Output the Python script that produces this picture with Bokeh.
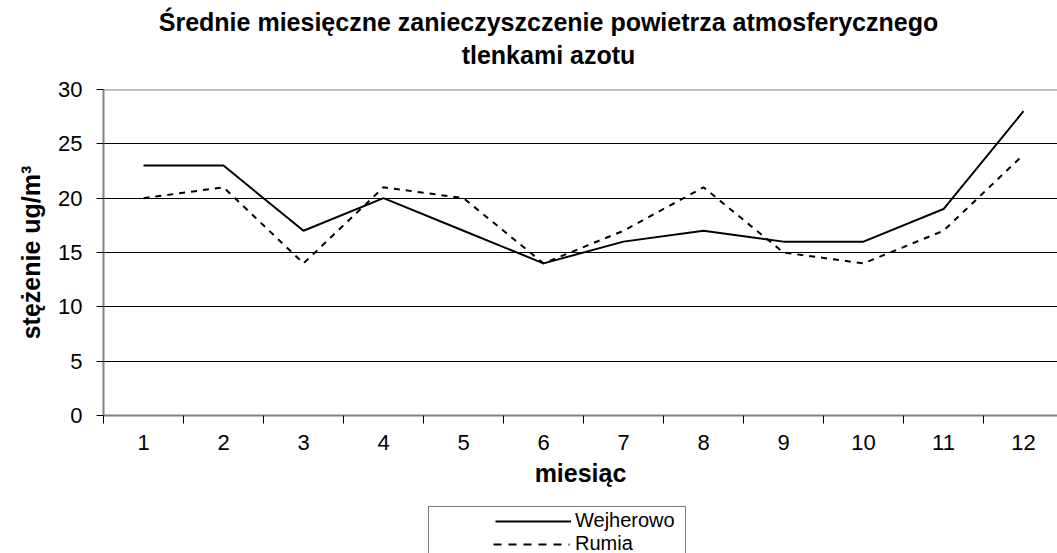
from bokeh.plotting import figure
from bokeh.layouts import column
from bokeh.models import (Range1d, FixedTicker, Span, Legend, LegendItem, Label)
from bokeh.embed import file_html
from bokeh.resources import INLINE

# ---------------- data ----------------
months = [1, 2, 3, 4, 5, 6, 7, 8, 9, 10, 11, 12]
wejherowo = [23, 23, 17, 20, 17, 14, 16, 17, 16, 16, 19, 28]
rumia = [20, 21, 14, 21, 20, 14, 17, 21, 15, 14, 17, 24]
y_ticks = [0, 5, 10, 15, 20, 25, 30]
title_lines = ["Średnie miesięczne zanieczyszczenie powietrza atmosferycznego",
               "tlenkami azotu"]
x_title = "miesiąc"
y_title = "stężenie ug/m³"
series_names = ["Wejherowo", "Rumia"]

FONT = "Liberation Sans"
NAN = float("nan")
W = 1057
LEFT = 103            # left edge of the plotting area
FRAME_W = W - LEFT


def blank(height):
    f = figure(width=W, height=height, output_backend="svg", toolbar_location=None,
               x_range=Range1d(0, 1), y_range=Range1d(0, 1),
               x_axis_location=None, y_axis_location=None,
               min_border_left=LEFT, min_border_right=0, min_border_top=0,
               min_border_bottom=0, frame_width=FRAME_W, frame_height=height)
    f.grid.visible = False
    f.outline_line_color = None
    f.background_fill_color = "white"
    f.border_fill_color = "white"
    return f


# ---------------- title strip ----------------
TOP_H = 75
p0 = blank(TOP_H)
for txt, base in zip(title_lines, [21, 54]):
    p0.add_layout(Label(x=548 - LEFT, y=TOP_H - base, x_units="screen", y_units="screen",
                        text=txt, text_font=FONT, text_font_size="25px",
                        text_font_style="bold", text_align="center",
                        text_baseline="alphabetic", text_color="black"))

# ---------------- main chart ----------------
FRAME_H = 326
MAIN_H = 430
x_end = 0.5 + FRAME_W / 80.0

p = figure(width=W, height=MAIN_H, output_backend="svg", toolbar_location=None,
           x_range=Range1d(0.5, x_end), y_range=Range1d(0, 30),
           frame_width=FRAME_W, frame_height=FRAME_H,
           min_border_left=LEFT, min_border_top=89 - TOP_H, min_border_right=0,
           min_border_bottom=MAIN_H - FRAME_H - (89 - TOP_H))
p.outline_line_color = None
p.background_fill_color = "white"
p.border_fill_color = "white"

xa = p.xaxis[0]
xa.ticker = FixedTicker(ticks=months, minor_ticks=[m - 0.5 for m in months] + [12.5])
xa.major_tick_out = 0
xa.major_tick_in = 0
xa.minor_tick_out = 8
xa.minor_tick_in = 0
xa.minor_tick_line_color = "black"
xa.axis_line_color = "#808080"
xa.axis_line_width = 2
xa.major_label_text_font = FONT
xa.major_label_text_font_size = "22px"
xa.major_label_text_color = "black"
xa.major_label_standoff = 11
xa.axis_label = x_title
xa.axis_label_text_font = FONT
xa.axis_label_text_font_size = "25px"
xa.axis_label_text_font_style = "bold"
xa.axis_label_text_color = "black"
xa.axis_label_standoff = 6

ya = p.yaxis[0]
ya.ticker = FixedTicker(ticks=y_ticks)
ya.major_tick_out = 7
ya.major_tick_in = 0
ya.major_tick_line_color = "black"
ya.axis_line_color = "#808080"
ya.axis_line_width = 2
ya.major_label_text_font = FONT
ya.major_label_text_font_size = "22px"
ya.major_label_text_color = "black"
ya.major_label_standoff = 14
ya.axis_label = y_title
ya.axis_label_text_font = FONT
ya.axis_label_text_font_size = "25px"
ya.axis_label_text_font_style = "bold"
ya.axis_label_text_color = "black"
ya.axis_label_standoff = 10

p.xgrid.visible = False
p.ygrid.ticker = FixedTicker(ticks=y_ticks)
p.ygrid.grid_line_color = "black"
p.ygrid.grid_line_width = 1

p.add_layout(Span(location=30, dimension="width", line_color="#808080", line_width=2))

p.line(months, wejherowo, line_color="black", line_width=2)
p.line(months, rumia, line_color="black", line_width=2, line_dash="6 6")

# ---------------- legend strip ----------------
LEG_H = 553 - TOP_H - MAIN_H
p2 = blank(LEG_H)
g1 = p2.line([NAN], [NAN], line_color="black", line_width=2,
             line_dash="0 64 76 1000")
g2 = p2.line([NAN], [NAN], line_color="black", line_width=2,
             line_dash="0 62 8 7 8 7 8 7 8 7 8 7 1 1000")
legend = Legend(items=[LegendItem(label=series_names[0], renderers=[g1]),
                       LegendItem(label=series_names[1], renderers=[g2])],
                location=(428 - LEFT, -5), padding=2, spacing=0, margin=0,
                label_height=20, glyph_height=20, glyph_width=140,
                label_width=108, label_standoff=4, label_text_font=FONT,
                label_text_font_size="20px", label_text_color="black",
                border_line_color="black", border_line_width=1,
                background_fill_alpha=0)
p2.add_layout(legend)

open("out.html", "w").write(file_html(column(p0, p, p2, spacing=0), INLINE))
